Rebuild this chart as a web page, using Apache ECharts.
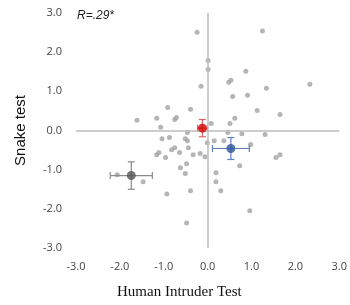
<!DOCTYPE html>
<html>
<head>
<meta charset="utf-8">
<script src="https://cdn.jsdelivr.net/npm/echarts@6/dist/echarts.min.js"></script>
<style>html,body{margin:0;padding:0;background:#fff}#c{width:350px;height:305px}</style>
</head>
<body>
<div id="c"></div>
<script>
// individual subjects (Human Intruder Test score, Snake test score)
const subjX = [-0.24,1.25,0.01,0.01,0.87,0.48,0.53,1.34,2.33,0.57,0.91,1.13,1.65,0.62,0.51,0.08,-0.15,-1.61,-1.16,-0.91,-1.07,-0.75,-0.71,-0.39,
  -1.04,-0.87,-0.46,-0.51,-0.46,-1.11,-0.96,-0.82,-0.75,-0.64,-0.44,-0.33,-0.17,-0.06,-0.62,-0.48,-0.51,-2.06,-1.47,-0.93,-0.39,-0.48,
  0.19,0.19,0.30,0.96,-0.01,0.15,0.37,0.46,0.78,1.31,0.98,0.73,1.56,1.65,-1.16];
const subjY = [2.51,2.54,1.79,1.56,1.51,1.23,1.28,1.08,1.18,0.87,0.90,0.51,0.41,0.31,0.18,0.18,1.13,0.26,0.31,0.59,0.08,0.28,0.33,0.54,
  -0.21,-0.18,-0.05,-0.21,-0.26,-0.56,-0.69,-0.49,-0.44,-0.56,-0.44,-0.62,-0.59,-0.67,-0.95,-0.85,-1.10,-1.13,-1.31,-1.62,-1.54,-2.36,
  -1.08,-1.31,-1.54,-2.05,-0.31,-0.26,-0.26,-0.05,-0.08,-0.10,-0.36,-0.90,-0.69,-0.62,-0.62];
// group means with error bars
const groupNames = ['low', 'mid', 'high'];
const meanX = [-1.74, -0.12, 0.53];
const meanY = [-1.15, 0.06, -0.46];
const errX = [0.48, 0.11, 0.42];
const errY = [0.35, 0.22, 0.28];
const groupColors = ['#555555', '#d40000', '#2f5597'];
const barColors = ['#8a8a8a', '#e06060', '#5b7fc0'];
const axisTicks = [-3, -2, -1, 0, 1, 2, 3];

const chart = echarts.init(document.getElementById('c'));
const subjData = subjX.map((x, i) => [x, subjY[i]]);
const meanData = meanX.map((x, i) => ({value: [x, meanY[i]], itemStyle: {color: groupColors[i]}, name: groupNames[i]}));
const errData = meanX.map((x, i) => [x, meanY[i], errX[i], errY[i], i]);

const tickFont = {fontFamily: 'Open Sans', fontSize: 11, color: '#444'};

chart.setOption({
  animation: false,
  grid: {left: 76, right: 7, top: 13, bottom: 57},
  xAxis: {
    type: 'value', min: axisTicks[0], max: axisTicks[axisTicks.length - 1], interval: 1,
    axisLine: {show: false}, axisTick: {show: false}, splitLine: {show: false},
    axisLabel: Object.assign({margin: 13, formatter: v => v.toFixed(1)}, tickFont)
  },
  yAxis: {
    type: 'value', min: axisTicks[0], max: axisTicks[axisTicks.length - 1], interval: 1,
    name: 'Snake test', nameLocation: 'middle', nameGap: 48,
    nameTextStyle: {fontFamily: 'Liberation Sans', fontSize: 15, color: '#111'},
    axisLine: {show: false}, axisTick: {show: false}, splitLine: {show: false},
    axisLabel: Object.assign({margin: 14, formatter: v => v.toFixed(1)}, tickFont)
  },
  graphic: [
    {type: 'text', left: 117, top: 285, style: {text: 'Human Intruder Test', font: '15px "Liberation Serif"', fill: '#111'}},
    {type: 'text', left: 77, top: 10, style: {text: 'R=.29*', font: 'italic 12px "Liberation Sans"', fill: '#222'}}
  ],
  series: [
    {
      type: 'scatter', data: subjData, symbolSize: 5,
      itemStyle: {color: '#a2a2a2'}, z: 3,
      markLine: {
        silent: true, symbol: 'none', label: {show: false},
        lineStyle: {color: '#bdbdbd', width: 1.5, type: 'solid'},
        data: [{xAxis: 0}, {yAxis: 0}]
      }
    },
    {
      type: 'custom', z: 4, data: errData,
      renderItem: function (params, api) {
        const x = api.value(0), y = api.value(1), ex = api.value(2), ey = api.value(3), g = api.value(4);
        const l = api.coord([x - ex, y]), r = api.coord([x + ex, y]);
        const t = api.coord([x, y + ey]), b = api.coord([x, y - ey]);
        const cap = 3.5;
        const st = {stroke: barColors[g], lineWidth: 1.2};
        const line = (x1, y1, x2, y2) => ({type: 'line', shape: {x1, y1, x2, y2}, style: st});
        return {type: 'group', children: [
          line(l[0], l[1], r[0], r[1]),
          line(t[0], t[1], b[0], b[1]),
          line(l[0], l[1] - cap, l[0], l[1] + cap),
          line(r[0], r[1] - cap, r[0], r[1] + cap),
          line(t[0] - cap, t[1], t[0] + cap, t[1]),
          line(b[0] - cap, b[1], b[0] + cap, b[1])
        ]};
      }
    },
    {type: 'scatter', data: meanData, symbolSize: 9, z: 5}
  ]
});
</script>
</body>
</html>
